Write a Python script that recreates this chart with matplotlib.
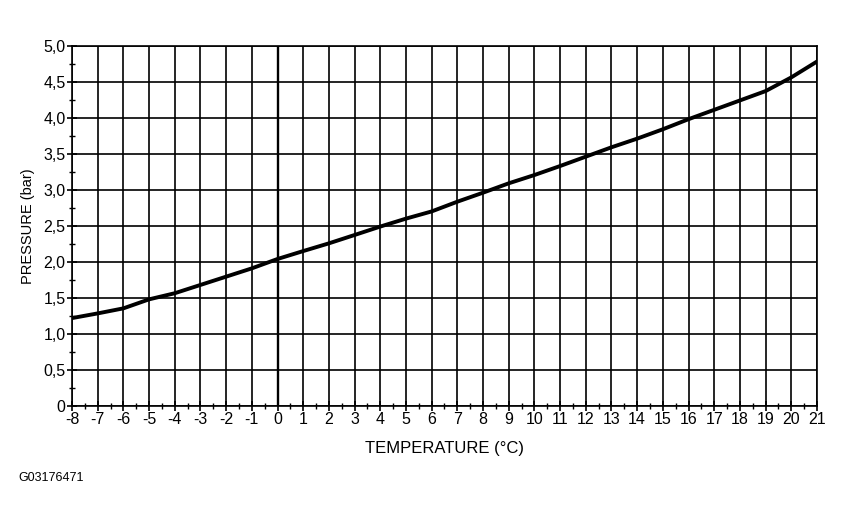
import matplotlib
matplotlib.use("Agg")
import matplotlib.pyplot as plt
from matplotlib.ticker import MultipleLocator

plt.rcParams['font.family'] = ['Liberation Sans', 'DejaVu Sans']

temperature = [-8, -7, -6, -5, -4, -3, -2, -1, 0, 1, 2, 3, 4, 5, 6, 7, 8, 9, 10,
               11, 12, 13, 14, 15, 16, 17, 18, 19, 20, 21]
pressure = [1.22, 1.285, 1.355, 1.48, 1.565, 1.68, 1.795, 1.91, 2.04, 2.15, 2.257,
            2.373, 2.49, 2.60, 2.70, 2.835, 2.96, 3.09, 3.205, 3.33, 3.46, 3.59,
            3.71, 3.84, 3.98, 4.11, 4.24, 4.37, 4.56, 4.78]

x_ticks = list(range(-8, 22))
x_tick_labels = [str(v) for v in x_ticks]
y_ticks = [0, 0.5, 1.0, 1.5, 2.0, 2.5, 3.0, 3.5, 4.0, 4.5, 5.0]
y_tick_labels = ['0', '0,5', '1,0', '1,5', '2,0', '2,5', '3,0', '3,5', '4,0', '4,5', '5,0']

fig = plt.figure(figsize=(8.42, 5.19), dpi=100)
ax = fig.add_axes([0.0855, 0.2177, 0.8848, 0.6943])

ax.plot(temperature, pressure, color='black', linewidth=2.8, solid_capstyle='round', zorder=3)

ax.set_xlim(-8, 21)
ax.set_ylim(0, 5.0)
ax.set_xticks(x_ticks)
ax.set_xticklabels(x_tick_labels)
ax.set_yticks(y_ticks)
ax.set_yticklabels(y_tick_labels)
ax.xaxis.set_minor_locator(MultipleLocator(0.5))
ax.yaxis.set_minor_locator(MultipleLocator(0.25))

ax.grid(True, which='major', color='black', linewidth=1.2)
ax.axvline(0, color='black', linewidth=1.7, zorder=2)
ax.tick_params(which='major', direction='inout', length=7, width=1.2, labelsize=11.5, pad=1)
ax.tick_params(which='minor', direction='inout', length=4, width=1.0)
for s in ax.spines.values():
    s.set_linewidth(1.2)
    s.set_color('black')

ax.set_xlabel('TEMPERATURE (°C)', fontsize=12, labelpad=10)
ax.set_ylabel('PRESSURE (bar)', fontsize=10.5, labelpad=6)
fig.text(18/842, 1 - 478/519, 'G03176471', fontsize=9, va='center', ha='left')

fig.savefig('out.png', dpi=100)
